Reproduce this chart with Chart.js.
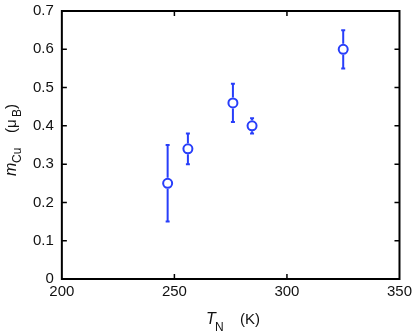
<!DOCTYPE html>
<html>
<head>
<meta charset="utf-8">
<script src="https://cdn.jsdelivr.net/npm/chart.js@4"></script>
<style>
  html, body { margin: 0; padding: 0; background: #fff; }
  #wrap { width: 416px; height: 336px; }
</style>
</head>
<body>
<div id="wrap"><canvas id="chart"></canvas></div>
<script>
// Néel temperature vs Cu moment
const tN = [247, 256, 276, 284.5, 325];
const mCu = [0.25, 0.34, 0.46, 0.40, 0.60];
const mErr = [0.10, 0.04, 0.05, 0.02, 0.05];

const xTicks = [200, 250, 300, 350];
const yTicks = [0, 0.1, 0.2, 0.3, 0.4, 0.5, 0.6, 0.7];

const blue = 'rgb(40,62,250)';
const font = 'Liberation Sans, Arial, sans-serif';

// vertical error bars with small caps
const errorBars = {
  id: 'errorBars',
  afterDatasetsDraw(chart) {
    const { ctx, scales: { x, y } } = chart;
    ctx.save();
    ctx.strokeStyle = blue;
    ctx.lineWidth = 2;
    tN.forEach((t, i) => {
      const px = x.getPixelForValue(t);
      const top = y.getPixelForValue(mCu[i] + mErr[i]);
      const bot = y.getPixelForValue(mCu[i] - mErr[i]);
      const c = y.getPixelForValue(mCu[i]);
      ctx.beginPath();
      ctx.moveTo(px, top); ctx.lineTo(px, c - 5.5);
      ctx.moveTo(px, c + 5.5); ctx.lineTo(px, bot);
      ctx.moveTo(px - 2, top); ctx.lineTo(px + 2, top);
      ctx.moveTo(px - 2, bot); ctx.lineTo(px + 2, bot);
      ctx.stroke();
    });
    ctx.restore();
  }
};

// box frame with inward ticks on all four sides, plus axis titles
const frame = {
  id: 'frame',
  afterDraw(chart) {
    const { ctx, chartArea: a, scales: { x, y } } = chart;
    ctx.save();
    ctx.strokeStyle = '#000';
    ctx.lineWidth = 2;
    ctx.strokeRect(a.left, a.top, a.right - a.left, a.bottom - a.top);
    ctx.lineWidth = 1.5;
    ctx.beginPath();
    yTicks.slice(1, -1).forEach(v => {
      const py = y.getPixelForValue(v);
      ctx.moveTo(a.left, py); ctx.lineTo(a.left + 5, py);
      ctx.moveTo(a.right, py); ctx.lineTo(a.right - 5, py);
    });
    xTicks.slice(1, -1).forEach(v => {
      const px = x.getPixelForValue(v);
      ctx.moveTo(px, a.bottom); ctx.lineTo(px, a.bottom - 5);
      ctx.moveTo(px, a.top); ctx.lineTo(px, a.top + 5);
    });
    ctx.stroke();

    ctx.fillStyle = '#111';
    ctx.textBaseline = 'alphabetic';
    ctx.textAlign = 'left';

    // x title: T_N   (K)
    const bx = 206, by = 324;
    ctx.font = 'italic 16px ' + font;
    ctx.fillText('T', bx, by);
    ctx.font = '12px ' + font;
    ctx.fillText('N', bx + 9, by + 7);
    ctx.font = '15px ' + font;
    ctx.fillText('(K)', 240, by);

    // y title rotated: m_Cu   (μ_B)
    ctx.translate(16, 176);
    ctx.rotate(-Math.PI / 2);
    ctx.font = 'italic 16px ' + font;
    ctx.fillText('m', 0, 0);
    ctx.font = '12px ' + font;
    ctx.fillText('Cu', 13, 5);
    ctx.font = '15px ' + font;
    ctx.fillText('(μ', 43, 0);
    ctx.font = '12px ' + font;
    ctx.fillText('B', 59, 5);
    ctx.font = '15px ' + font;
    ctx.fillText(')', 67, 0);
    ctx.restore();
  }
};

new Chart(document.getElementById('chart'), {
  type: 'scatter',
  data: {
    datasets: [{
      data: tN.map((t, i) => ({ x: t, y: mCu[i] })),
      pointRadius: 4.5,
      pointHoverRadius: 4.5,
      pointBorderWidth: 2,
      pointBorderColor: blue,
      pointBackgroundColor: '#fff'
    }]
  },
  options: {
    responsive: true,
    maintainAspectRatio: false,
    animation: false,
    layout: { padding: { left: 25, right: 16, top: 11, bottom: 31 } },
    plugins: { legend: { display: false }, tooltip: { enabled: false } },
    scales: {
      x: {
        type: 'linear',
        min: 200, max: 350,
        afterBuildTicks: s => { s.ticks = xTicks.map(v => ({ value: v })); },
        grid: { display: false, drawTicks: false },
        border: { display: false },
        ticks: { color: '#111', padding: 4, font: { family: font, size: 15 } }
      },
      y: {
        min: 0, max: 0.7,
        afterBuildTicks: s => { s.ticks = yTicks.map(v => ({ value: v })); },
        afterFit: s => { s.paddingTop = 0; },
        grid: { display: false, drawTicks: false },
        border: { display: false },
        ticks: {
          color: '#111', padding: 8,
          font: { family: font, size: 15 },
          callback: v => (v === 0 ? '0' : v.toFixed(1))
        }
      }
    }
  },
  plugins: [errorBars, frame]
});
</script>
</body>
</html>
